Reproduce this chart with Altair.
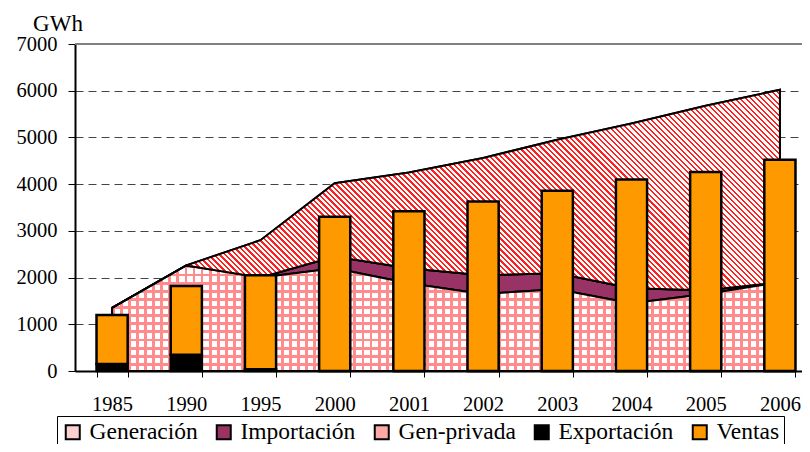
import altair as alt
import pandas as pd

years = ["1985", "1990", "1995", "2000", "2001", "2002", "2003", "2004", "2005", "2006"]
generacion = [1350, 2260, 2000, 2200, 1880, 1650, 1750, 1450, 1650, 1900]
importacion = [0, 0, 0, 250, 320, 400, 340, 320, 80, 0]
gen_privada = [0, 0, 800, 1570, 2050, 2510, 2860, 3530, 3950, 4120]
exportacion = [150, 350, 40, 0, 0, 0, 0, 0, 0, 0]
ventas = [1050, 1470, 2010, 3300, 3420, 3630, 3860, 4100, 4260, 4520]

series = ["Generación", "Importación", "Gen-privada", "Exportación", "Ventas"]
colors = ["#fcd0d0", "#993366", "#ffa8a8", "#000000", "#ff9900"]
y_ticks = [0, 1000, 2000, 3000, 4000, 5000, 6000, 7000]

area_rows = []
for i, y in enumerate(years):
    for k, (name, vals) in enumerate(zip(series[:3], [generacion, importacion, gen_privada])):
        area_rows.append({"year": y, "serie": name, "value": vals[i], "ord": k})
bar_rows = []
for i, y in enumerate(years):
    for k, (name, vals) in enumerate(zip(series[3:], [exportacion, ventas])):
        bar_rows.append({"year": y, "serie": name, "value": vals[i], "ord": k})
area_df = pd.DataFrame(area_rows)
bar_df = pd.DataFrame(bar_rows)
top_df = pd.DataFrame({"v": [max(y_ticks)]})

FONT = "Liberation Serif"
W, H = 742, 327
STEP = W / len(years)
PX = H / max(y_ticks)


def stripes(n, frac, c_line, c_bg):
    stops = []
    for i in range(n):
        a = round(i / n, 6)
        b = round((i + frac) / n, 6)
        c = round((i + 1) / n, 6)
        stops += [alt.GradientStop(color=c_line, offset=a), alt.GradientStop(color=c_line, offset=b),
                  alt.GradientStop(color=c_bg, offset=b), alt.GradientStop(color=c_bg, offset=c)]
    return stops


# hatch for Gen-privada: 45 degree "\" stripes inside the area's bounding box
gp_w = STEP * (len(years) - 1)
lower = [g + m for g, m in zip(generacion, importacion)]
upper = [l + p for l, p in zip(lower, gen_privada)]
gp_h = (max(upper) - min(lower)) * PX
r = gp_h / gp_w
L = (1 + r) / (1 + r * r)
n_hatch = int(round(gp_w * (1 + r) / 5.5))
hatch = alt.LinearGradient(gradient="linear", stops=stripes(n_hatch, 0.42, "#ff2020", "#ffffff"),
                           x1=0, y1=1, x2=round(L, 5), y2=round(1 - L * r, 5))

# grid for Generación
gen_h = max(generacion) * PX
grid_v = alt.LinearGradient(gradient="linear", stops=stripes(int(round(gp_w / 8)), 0.36, "#ff8c8c", "#ffffff"),
                            x1=0, y1=0, x2=1, y2=0)
grid_h = alt.LinearGradient(gradient="linear",
                            stops=stripes(max(1, int(round(gen_h / 8))), 0.36, "#ff8c8c", "rgba(255,255,255,0)"),
                            x1=0, y1=0, x2=0, y2=1)

xscale = alt.Scale(type="band", paddingInner=0.58, paddingOuter=0.29)
yscale = alt.Scale(domain=[0, 7000], nice=False)
legend = alt.Legend(
    orient="none", legendX=-18, legendY=372, direction="horizontal", columns=5,
    title=None, symbolType="square", symbolSize=196, symbolStrokeColor="black",
    symbolStrokeWidth=2, symbolOpacity=1, labelFont=FONT, labelFontSize=23.5,
    labelColor="black", strokeColor="black", fillColor="white", padding=4,
    columnPadding=14, labelOffset=5,
)
color = alt.Color("serie:N", scale=alt.Scale(domain=series, range=colors), legend=legend)

x_axis = alt.Axis(title=None, labelAngle=0, tickBand="extent", tickSize=6, labelPadding=17,
                  domainColor="black", tickColor="black", domainWidth=2, labelFont=FONT,
                  labelFontSize=20.5, labelColor="black", grid=False)
y_axis = alt.Axis(values=y_ticks, format="d", title="GWh", titleAngle=0, titleX=-17.5, titleY=-14,
                  titleAlign="center", titleBaseline="alphabetic", titleFont=FONT,
                  titleFontSize=23, titleFontWeight="normal", titleColor="black",
                  labelFont=FONT, labelFontSize=20.5, labelColor="black", tickSize=7,
                  labelPadding=11, domainColor="black", tickColor="black", domainWidth=2,
                  grid=True, gridDash=[8, 5], gridColor="#444444", gridWidth=1)

X = alt.X("year:N", scale=xscale, axis=x_axis, bandPosition=0.5, sort=years)
Xb = alt.X("year:N", scale=xscale, axis=x_axis, sort=years)

base_areas = alt.Chart(area_df).mark_area(stroke="black", strokeWidth=2, opacity=1).encode(
    x=X,
    y=alt.Y("value:Q", scale=yscale, axis=y_axis, stack="zero"),
    color=color,
    order=alt.Order("ord:Q"),
)

stacked = alt.Chart(area_df).transform_stack(
    stack="value", groupby=["year"], sort=[alt.SortField("ord")], as_=["y0", "y1"]
)


def overlay(name, fill, stroke):
    kw = dict(fill=fill, opacity=1, fillOpacity=1)
    if stroke:
        kw.update(stroke="black", strokeWidth=2)
    else:
        kw.update(strokeWidth=0)
    return stacked.transform_filter(alt.datum.serie == name).mark_area(**kw).encode(
        x=X,
        y=alt.Y("y1:Q", scale=yscale, axis=y_axis),
        y2="y0:Q",
    )


gen_v = overlay("Generación", grid_v, False)
gen_h2 = overlay("Generación", grid_h, True)
gp_over = overlay("Gen-privada", hatch, True)

bars = alt.Chart(bar_df).mark_bar(stroke="black", strokeWidth=2.5, opacity=1).encode(
    x=Xb,
    y=alt.Y("value:Q", scale=yscale, axis=y_axis, stack="zero"),
    color=color,
    order=alt.Order("ord:Q"),
)
top_rule = alt.Chart(top_df).mark_rule(color="#808080", strokeWidth=2).encode(
    y=alt.Y("v:Q", scale=yscale, axis=y_axis)
)

chart = alt.layer(base_areas, top_rule, gen_v, gen_h2, gp_over, bars).properties(
    width=W, height=H,
    padding={"left": 67, "top": 36, "right": -15, "bottom": 73},
    autosize=alt.AutoSizeParams(type="none"),
).configure_view(stroke=None)

chart.save("out.html", embed_options={"renderer": "svg", "actions": False})
